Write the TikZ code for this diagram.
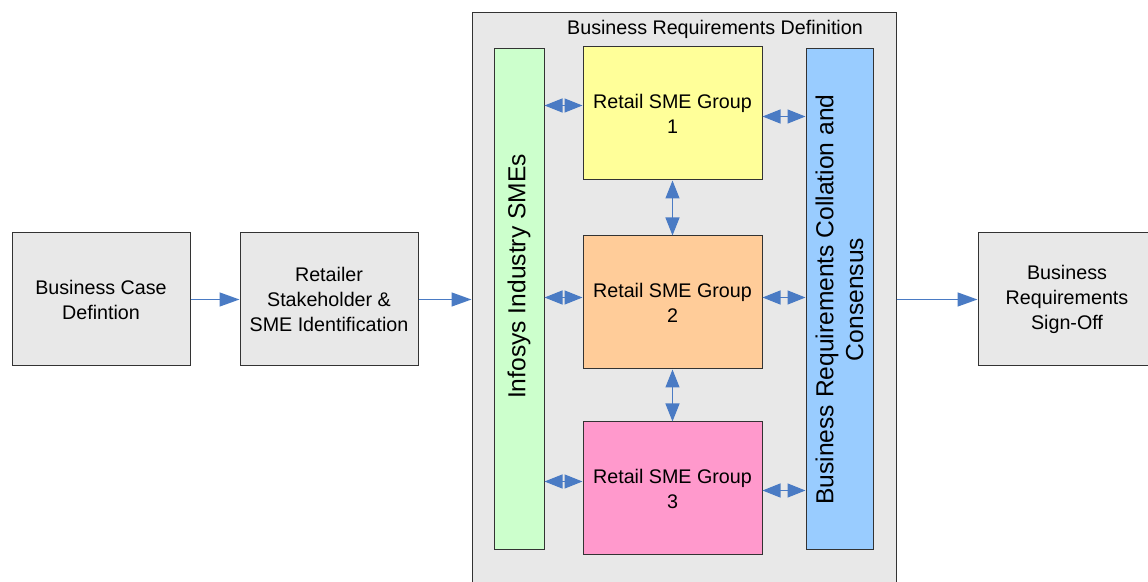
\documentclass[tikz,border=0pt]{standalone}
\usepackage{fontspec}
\setmainfont{Liberation Sans}
\usetikzlibrary{arrows.meta,calc}
\definecolor{boxgray}{HTML}{E8E8E8}
\definecolor{boxline}{HTML}{333333}
\definecolor{smegreen}{HTML}{CCFFCC}
\definecolor{smeyellow}{HTML}{FFFF99}
\definecolor{smeorange}{HTML}{FFCC99}
\definecolor{smepink}{HTML}{FF99CC}
\definecolor{smeblue}{HTML}{99CCFF}
\definecolor{arrowblue}{HTML}{4A7BC4}
\tikzset{
    stage/.style = {
    	draw=boxline,
    	fill=boxgray,
    	line width=0.5pt,
    	minimum width=89pt,
    	minimum height=66.5pt,
    	inner sep=0pt,
    	align=center
    },
    group/.style = {
    	stage,
    	minimum width=89.5pt
    },
    column/.style = {
    	draw=boxline,
    	line width=0.5pt,
    	minimum height=250.5pt,
    	inner sep=0pt
    },
    bigtext/.style = {
    	font=\fontsize{12.3}{14.8}\selectfont
    },
    flow/.style = {
    	draw=arrowblue,
    	line width=0.7pt,
    	-{Triangle[length=10pt,width=7pt]}
    },
    link/.style = {
    	draw=arrowblue,
    	line width=0.7pt,
    	{Triangle[length=9pt,width=7pt]}-{Triangle[length=9pt,width=7pt]}
    }
}

\begin{document}
\begin{tikzpicture}[x=0.5pt,y=-0.5pt,every node/.append style={font=\fontsize{9.85}{12.5}\selectfont}]

	\useasboundingbox (0,0) rectangle (1148,582);

	% Stages outside
	\node[stage] (case) at (101,299.5) {Business Case\\Defintion};
	\node[stage] (retailer) at (329,299.5) {Retailer\\Stakeholder \&\\SME Identification};
	\node[stage] (signoff) at (1067,299.5) {Business\\Requirements\\Sign-Off};

	% Definition block
	\node[stage, minimum width=212pt, minimum height=303.5pt] (brd) at (684,316.5) {};
	\node (title) at (715,29) {Business Requirements Definition};

	\node[column, fill=smegreen, minimum width=25pt] (infosys) at (519,299.5) {};
	\node[bigtext, rotate=90] (infosystext) at ($(infosys.center)+(0,-23)$) {Infosys Industry SMEs};
	\node[column, bigtext, fill=smeblue, rotate=90, minimum width=250.5pt, minimum height=33.5pt, align=center] (collation) at (839.5,299.5)
		{Business Requirements Collation and\\Consensus};

	\node[group, fill=smeyellow] (grp1) at (672.5,113.5) {Retail SME Group\\1};
	\node[group, fill=smeorange] (grp2) at (672.5,302.5) {Retail SME Group\\2};
	\node[group, fill=smepink] (grp3) at (672.5,488.5) {Retail SME Group\\3};

	% Flow
	\draw[flow] (case.east) -- (retailer.west);
	\draw[flow] (retailer.east) -- (brd.west |- retailer.east);
	\draw[flow] (brd.east |- signoff.west) -- (signoff.west);

	% Links inside
	\draw[link] ($(infosys.east |- grp1.west)+(0,-8)$) -- ($(grp1.west)+(0,-8)$);
	\draw[link] ($(infosys.east |- grp2.west)+(0,-5)$) -- ($(grp2.west)+(0,-5)$);
	\draw[link] ($(infosys.east |- grp3.west)+(0,-7)$) -- ($(grp3.west)+(0,-7)$);

	\draw[link] ($(grp1.east)+(0,3)$) -- ($(collation.north |- grp1.east)+(0,3)$);
	\draw[link] ($(grp2.east)+(0,-5)$) -- ($(collation.north |- grp2.east)+(0,-5)$);
	\draw[link] ($(grp3.east)+(0,2)$) -- ($(collation.north |- grp3.east)+(0,2)$);

	\draw[link] (grp1.south) -- (grp2.north);
	\draw[link] (grp2.south) -- (grp3.north);

\end{tikzpicture}
\end{document}
